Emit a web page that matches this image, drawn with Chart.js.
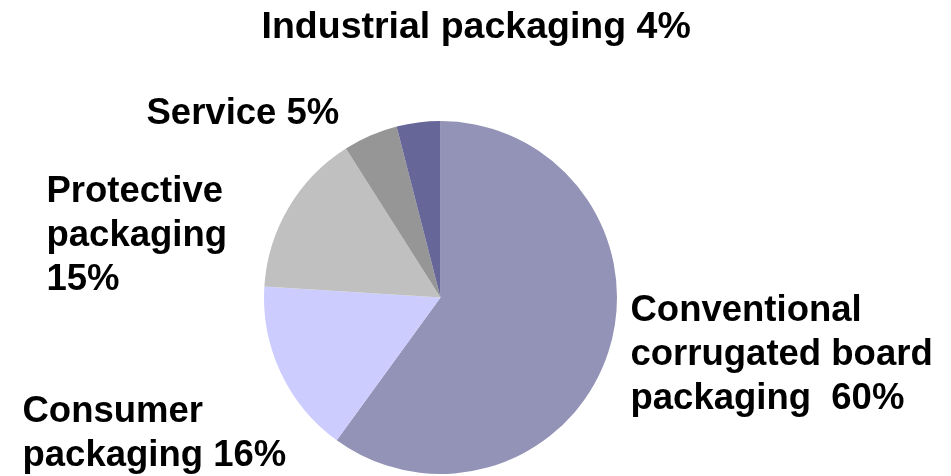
<!DOCTYPE html>
<html>
<head>
<meta charset="utf-8">
<title>Packaging segments</title>
<script src="https://cdn.jsdelivr.net/npm/chart.js@4/dist/chart.umd.min.js"></script>
<style>
  html, body { margin: 0; padding: 0; background: #fff; }
  #segmentChart { display: block; }
</style>
</head>
<body>
<canvas id="segmentChart" width="951" height="476"></canvas>
<script>
// Share of sales by segment (%), clockwise from 12 o'clock
const segments = ['Conventional corrugated board packaging', 'Consumer packaging', 'Protective packaging', 'Service', 'Industrial packaging'];
const shares = [60, 16, 15, 5, 4];
// label text per segment, {v} is replaced by the share
const labelLines = [
    ['Conventional', 'corrugated board', 'packaging  {v}%'],
    ['Consumer', 'packaging {v}%'],
    ['Protective', 'packaging', '{v}%'],
    ['Service {v}%'],
    ['Industrial packaging {v}%']
];

const colors = ['#9393b7', '#ccccff', '#c0c0c0', '#969696', '#666699'];
// where each label block starts, relative to the pie centre (left edge, first baseline)
const labelOffsets = [
    [190, 23],
    [-418, 124],
    [-394, -96],
    [-294, -174],
    [-179, -260]
];
const labelSizes = [36.5, 36.5, 36.5, 36.5, 37.5];

// draws the segment labels around the pie
const segmentLabels = {
    id: 'segmentLabels',
    afterDraw(chart) {
        const ctx = chart.ctx;
        const arcs = chart.getDatasetMeta(0).data;
        if (!arcs.length) return;
        const cx = arcs[0].x;
        const cy = arcs[0].y;
        ctx.save();
        ctx.fillStyle = '#000';
        ctx.textAlign = 'left';
        ctx.textBaseline = 'alphabetic';
        labelLines.forEach((lines, i) => {
            const [dx, dy] = labelOffsets[i];
            ctx.font = 'bold ' + labelSizes[i] + 'px "Liberation Sans", Arial, sans-serif';
            lines.forEach((line, j) => {
                const text = line.replace('{v}', shares[i]);
                ctx.fillText(text, cx + dx, cy + dy + j * 44);
            });
        });
        ctx.restore();
    }
};

const ctx = document.getElementById('segmentChart').getContext('2d');
const segmentChart = new Chart(ctx, {
    type: 'pie',
    data: {
        labels: segments,
        datasets: [{
            data: shares,
            backgroundColor: colors,
            borderWidth: 0
        }]
    },
    options: {
        responsive: false,
        devicePixelRatio: 1,
        animation: false,
        layout: {
            padding: { top: 121, bottom: 2, left: 240, right: 310 }
        },
        plugins: {
            legend: { display: false },
            title: { display: false },
            tooltip: { enabled: false }
        }
    },
    plugins: [segmentLabels]
});
</script>
</body>
</html>
